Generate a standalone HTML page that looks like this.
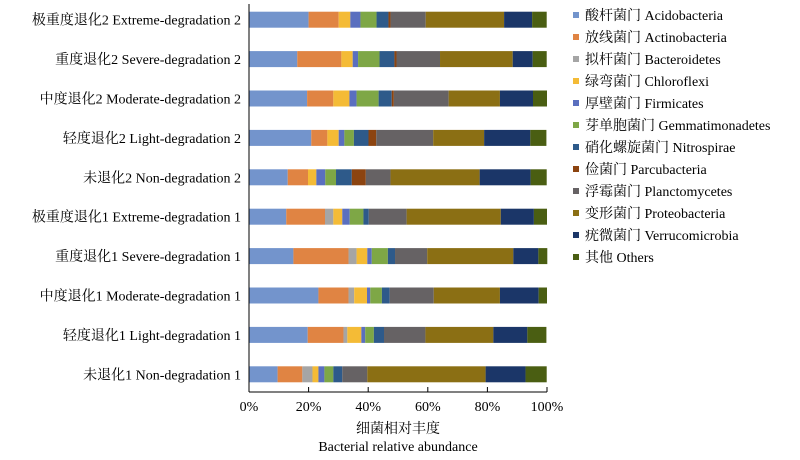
<!DOCTYPE html>
<html><head><meta charset="utf-8"><style>
body{margin:0;background:#fff}
svg text{font-family:"Liberation Serif","Noto Serif CJK SC","Noto Sans CJK SC",serif;font-size:14px;fill:#000}
</style></head><body>
<svg id="chart" width="800" height="455" viewBox="0 0 800 455" xmlns="http://www.w3.org/2000/svg">
<g id="bars"></g>
<g id="ylabels"></g>
<g id="xaxis"></g>
<g id="legend"></g>
<text x="398" y="433" text-anchor="middle" font-size="14.5">细菌相对丰度</text>
<text x="398" y="451" text-anchor="middle" font-size="14.5">Bacterial relative abundance</text>
</svg>
<script>
const categories=["极重度退化2 Extreme-degradation 2","重度退化2 Severe-degradation 2","中度退化2 Moderate-degradation 2","轻度退化2 Light-degradation 2","未退化2 Non-degradation 2","极重度退化1 Extreme-degradation 1","重度退化1 Severe-degradation 1","中度退化1 Moderate-degradation 1","轻度退化1 Light-degradation 1","未退化1 Non-degradation 1"];
const seriesNames=["酸杆菌门 Acidobacteria","放线菌门 Actinobacteria","拟杆菌门 Bacteroidetes","绿弯菌门 Chloroflexi","厚壁菌门 Firmicates","芽单胞菌门 Gemmatimonadetes","硝化螺旋菌门 Nitrospirae","俭菌门 Parcubacteria","浮霉菌门 Planctomycetes","变形菌门 Proteobacteria","疣微菌门 Verrucomicrobia","其他 Others"];
const acidobacteria=[20.0,16.2,19.5,20.9,13.0,12.5,14.9,23.3,19.7,9.6];
const actinobacteria=[10.1,14.8,8.8,5.4,6.8,13.0,18.5,10.1,12.0,8.3];
const bacteroidetes=[0,0,0,0,0,2.8,2.7,1.9,1.3,3.4];
const chloroflexi=[3.9,3.8,5.4,3.8,2.8,3.0,3.6,4.3,4.7,2.0];
const firmicates=[3.4,1.8,2.4,1.9,3.0,2.5,1.5,1.1,1.3,2.0];
const gemmatimonadetes=[5.4,7.2,7.4,3.2,3.6,4.6,5.4,3.9,2.9,3.0];
const nitrospirae=[4.0,5.0,4.4,4.9,5.3,1.8,2.4,2.6,3.4,3.0];
const parcubacteria=[0.7,0.7,0.7,2.6,4.7,0,0,0,0,0];
const planctomycetes=[11.8,14.6,18.4,19.1,8.3,12.7,10.8,14.8,13.9,8.4];
const proteobacteria=[26.3,24.4,17.2,17.1,29.9,31.6,28.9,22.2,22.8,39.7];
const verrucomicrobia=[9.4,6.7,11.1,15.5,17.1,11.1,8.4,13.0,11.4,13.4];
const others=[4.9,4.7,4.7,5.4,5.4,4.4,3.0,2.8,6.4,7.1];
const tickLabels=["0%","20%","40%","60%","80%","100%"];
const tickValues=[0,20,40,60,80,100];
const series=[acidobacteria,actinobacteria,bacteroidetes,chloroflexi,firmicates,gemmatimonadetes,nitrospirae,parcubacteria,planctomycetes,proteobacteria,verrucomicrobia,others];
const colors=["#7394cc","#e08443","#a5a5a5","#f4bb36","#5a6fbf","#7ea746","#2e5a8a","#8c4410","#666264","#8b6f14","#1b3668","#4a5e12"];
const NS="http://www.w3.org/2000/svg";
const X0=249,X1=547,BH=16;
const xs=v=>X0+(X1-X0)*v/100;
const yc=i=>19.7+i*39.4;
function mk(tag,attrs,parent){const e=document.createElementNS(NS,tag);for(const k in attrs)e.setAttribute(k,attrs[k]);parent.appendChild(e);return e;}
const gb=document.getElementById('bars'),gy=document.getElementById('ylabels'),gx=document.getElementById('xaxis'),gl=document.getElementById('legend');
categories.forEach((c,i)=>{
  let cum=0;
  series.forEach((s,j)=>{
    const v=s[i];
    const r=mk('rect',{x:xs(cum),y:yc(i)-BH/2,width:Math.max(0,xs(cum+v)-xs(cum)),height:BH,fill:colors[j]},gb);
    
    
    cum+=v;
  });
  const t=mk('text',{x:241,y:yc(i)+5,'text-anchor':'end','font-size':'14.6'},gy);
  t.textContent=c;
  
  
});
const ax=mk('line',{x1:X0,y1:4,x2:X0,y2:392,stroke:'#000','stroke-width':1},gx);


const bx=mk('line',{x1:X0,y1:392,x2:X1,y2:392,stroke:'#000','stroke-width':1},gx);


tickValues.forEach((v,k)=>{
  const tk=mk('line',{x1:xs(v),y1:392,x2:xs(v),y2:387,stroke:'#000'},gx);
  
  
  const t=mk('text',{x:xs(v),y:411,'text-anchor':'middle'},gx);
  t.textContent=tickLabels[k];
  
  
});
seriesNames.forEach((n,j)=>{
  const y=15+j*22;
  const r=mk('rect',{x:573,y:y-3,width:6,height:6,fill:colors[j]},gl);
  
  
  const t=mk('text',{x:585,y:y+5,'font-size':'14'},gl);
  t.textContent=n;
  
  
});
</script>
</body></html>
